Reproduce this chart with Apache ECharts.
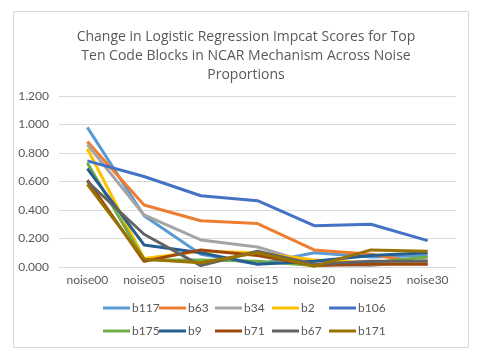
<!DOCTYPE html>
<html><head><meta charset="utf-8">
<script src="https://cdn.jsdelivr.net/npm/echarts@6/dist/echarts.min.js"></script>
<style>html,body{margin:0;padding:0;background:#fff}#c{width:483px;height:360px}</style>
</head><body><div id="c"></div>
<script>
const categories = ['noise00','noise05','noise10','noise15','noise20','noise25','noise30'];
const yTicks = ['0.000','0.200','0.400','0.600','0.800','1.000','1.200'];
const b117 = [0.98, 0.36, 0.09, 0.02, 0.10, 0.07, 0.08];
const b63  = [0.88, 0.435, 0.325, 0.305, 0.12, 0.09, 0.02];
const b34  = [0.86, 0.365, 0.19, 0.14, 0.02, 0.01, 0.05];
const b2   = [0.83, 0.06, 0.11, 0.10, 0.05, 0.03, 0.04];
const b106 = [0.745, 0.635, 0.50, 0.465, 0.29, 0.30, 0.185];
const b175 = [0.73, 0.05, 0.05, 0.04, 0.01, 0.03, 0.07];
const b9   = [0.69, 0.155, 0.10, 0.02, 0.04, 0.08, 0.10];
const b71  = [0.61, 0.04, 0.12, 0.08, 0.01, 0.02, 0.02];
const b67  = [0.60, 0.23, 0.01, 0.11, 0.02, 0.04, 0.04];
const b171 = [0.58, 0.055, 0.03, 0.10, 0.005, 0.12, 0.11];
const seriesNames = ['b117','b63','b34','b2','b106','b175','b9','b71','b67','b171'];
const seriesData = [b117,b63,b34,b2,b106,b175,b9,b71,b67,b171];
const colors = ['#5B9BD5','#ED7D31','#A5A5A5','#FFC000','#4472C4','#70AD47','#255E91','#9E480E','#636363','#997300'];

const font = 'Lato';
const txt = '#595959';
const colX = [103, 159, 215, 272, 329];
const rowY = [302, 325];
const legends = seriesNames.map((n, i) => ({
  data: [n],
  icon: 'rect', itemWidth: 27, itemHeight: 3, itemGap: 0,
  left: colX[i % 5], top: rowY[Math.floor(i / 5)],
  textStyle: {fontFamily: font, fontSize: 12, color: txt, padding: [0,0,0,-3]},
  padding: 0
}));
const chart = echarts.init(document.getElementById('c'), null, {renderer: 'canvas'});
chart.setOption({
  animation: false,
  color: colors,
  title: {
    text: 'Change in Logistic Regression Impcat Scores for Top\nTen Code Blocks in NCAR Mechanism Across Noise\nProportions',
    left: 241, top: 23, textAlign: 'center',
    textStyle: {fontFamily: 'Open Sans', fontSize: 14, fontWeight: 'normal', color: txt, lineHeight: 19}
  },
  graphic: [{type: 'rect', shape: {x: 13.5, y: 11.5, width: 455, height: 336}, style: {fill: 'none', stroke: '#d9d9d9', lineWidth: 1}, silent: true}],
  legend: legends,
  grid: {left: 59, right: 27, top: 96, bottom: 93, containLabel: false},
  xAxis: {
    type: 'category', data: categories, boundaryGap: true,
    axisLine: {lineStyle: {color: '#d9d9d9'}}, axisTick: {show: false},
    axisLabel: {fontFamily: font, fontSize: 12, color: txt, margin: 7, interval: 0}
  },
  yAxis: {
    type: 'value', min: 0, max: 1.2, interval: 0.2,
    axisLine: {show: false}, axisTick: {show: false},
    splitLine: {lineStyle: {color: '#d9d9d9'}},
    axisLabel: {fontFamily: font, fontSize: 12, color: txt, margin: 10,
      formatter: (v) => yTicks[Math.round(v / 0.2)]}
  },
  series: seriesNames.map((n, i) => ({
    name: n, type: 'line', data: seriesData[i], showSymbol: false, symbol: 'none',
    lineStyle: {width: 3, color: colors[i]}, itemStyle: {color: colors[i]}
  }))
});
</script></body></html>
